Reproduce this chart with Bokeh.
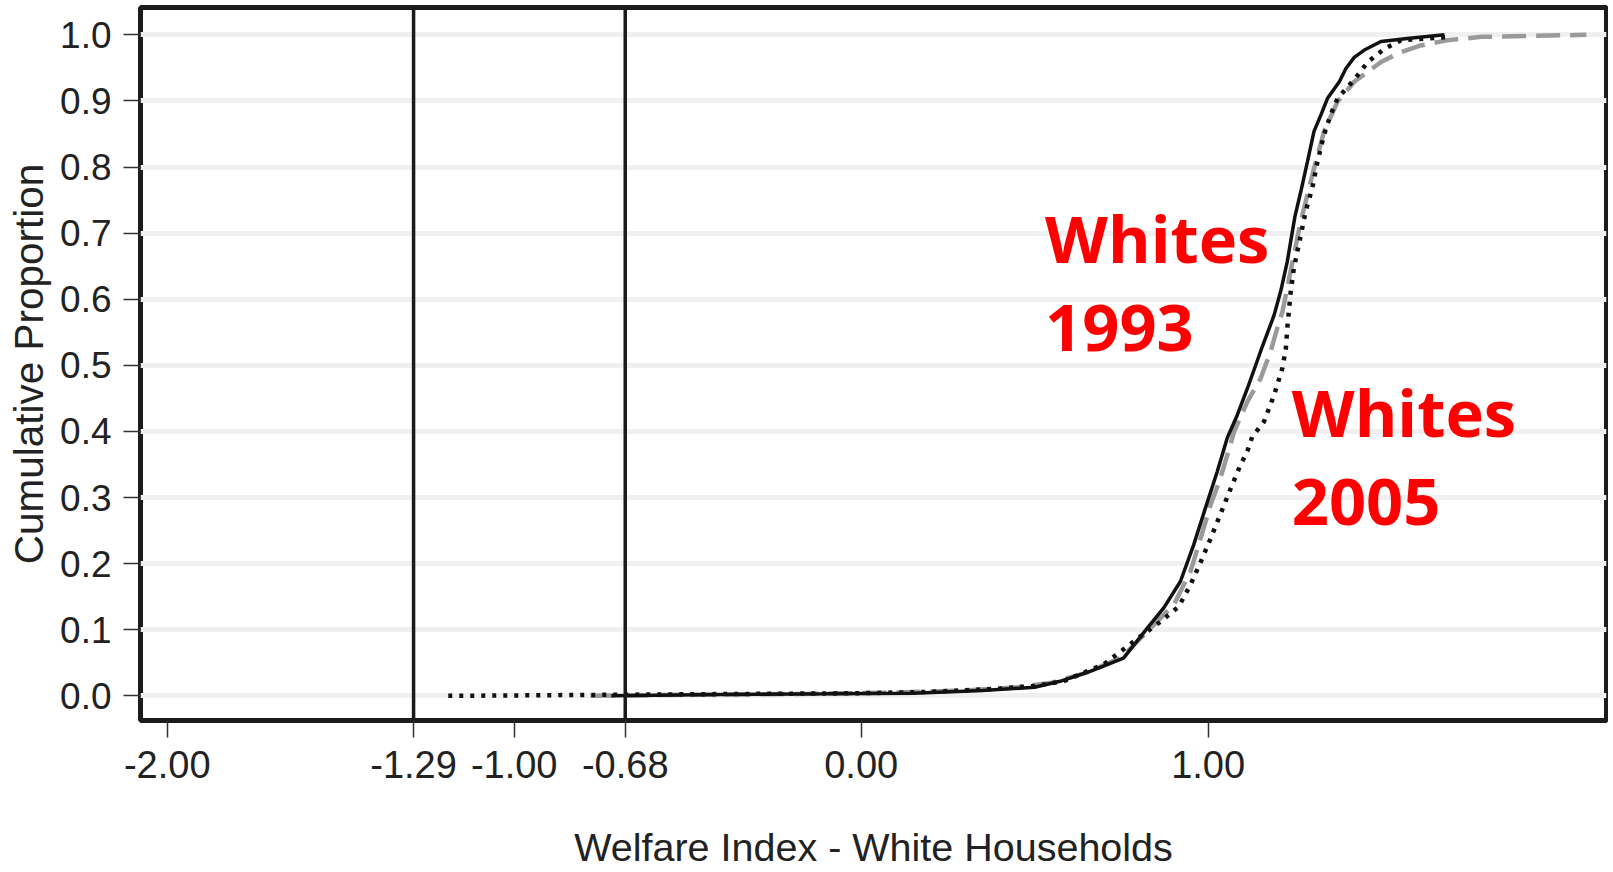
from bokeh.plotting import figure
from bokeh.models import Range1d, FixedTicker, Span, NumeralTickFormatter, ColumnDataSource
from bokeh.core.properties import value
from bokeh.embed import file_html
from bokeh.resources import INLINE

# ---- data ----
# solid black curve (Whites 1993)
x_solid = [-0.72, -0.40, -0.10, 0.15, 0.35, 0.50, 0.573, 0.66, 0.756, 0.824, 0.872, 0.920,
           0.958, 0.992, 1.026, 1.055, 1.084, 1.113, 1.151, 1.190, 1.209, 1.228, 1.250,
           1.267, 1.286, 1.305, 1.325, 1.344, 1.378, 1.397, 1.421, 1.450, 1.498, 1.58, 1.681]
y_solid = [0.000, 0.002, 0.003, 0.004, 0.008, 0.013, 0.022, 0.037, 0.057, 0.102, 0.133, 0.173,
           0.228, 0.284, 0.339, 0.390, 0.425, 0.465, 0.521, 0.576, 0.612, 0.657, 0.725,
           0.763, 0.808, 0.854, 0.879, 0.904, 0.929, 0.949, 0.966, 0.977, 0.990, 0.995, 1.000]

# grey dashed curve
x_dashed = [-0.78, -0.45, -0.15, 0.10, 0.30, 0.45, 0.55, 0.65, 0.75, 0.833, 0.901, 0.949,
            0.978, 1.007, 1.035, 1.064, 1.075, 1.113, 1.151, 1.180, 1.199, 1.214, 1.228,
            1.247, 1.267, 1.305, 1.334, 1.373, 1.421, 1.460, 1.498, 1.556, 1.613, 1.690,
            1.788, 2.09]
y_dashed = [0.000, 0.002, 0.003, 0.005, 0.008, 0.013, 0.020, 0.035, 0.058, 0.102, 0.138, 0.188,
            0.238, 0.289, 0.329, 0.380, 0.400, 0.445, 0.480, 0.521, 0.556, 0.581, 0.617,
            0.667, 0.718, 0.798, 0.854, 0.899, 0.929, 0.944, 0.959, 0.974, 0.984, 0.992,
            0.997, 1.000]

# black dotted curve (Whites 2005)
x_dotted = [-1.19, -0.90, -0.60, -0.30, 0.00, 0.20, 0.40, 0.50, 0.583, 0.70, 0.80, 0.862,
            0.915, 0.949, 0.983, 1.007, 1.040, 1.069, 1.093, 1.113, 1.127, 1.161, 1.190,
            1.214, 1.224, 1.228, 1.238, 1.247, 1.267, 1.281, 1.300, 1.315, 1.334, 1.353,
            1.373, 1.402, 1.431, 1.460, 1.508, 1.556, 1.695]
y_dotted = [0.000, 0.001, 0.002, 0.003, 0.004, 0.006, 0.011, 0.015, 0.022, 0.048, 0.088, 0.112,
            0.135, 0.168, 0.208, 0.238, 0.281, 0.319, 0.349, 0.370, 0.392, 0.415, 0.455,
            0.496, 0.526, 0.556, 0.612, 0.647, 0.697, 0.733, 0.768, 0.808, 0.849, 0.879,
            0.904, 0.921, 0.939, 0.959, 0.979, 0.992, 0.997]

cutoffs = [-1.29, -0.68]
x_ticks = [-2.00, -1.29, -1.00, -0.68, 0.00, 1.00]
y_ticks = [0.0, 0.1, 0.2, 0.3, 0.4, 0.5, 0.6, 0.7, 0.8, 0.9, 1.0]

label_text = ["Whites", "1993", "Whites", "2005"]
label_x = [0.530, 0.530, 1.241, 1.241]
label_y = [0.693, 0.557, 0.429, 0.294]

x_title = "Welfare Index - White Households"
y_title = "Cumulative Proportion"

# ---- figure ----
p = figure(width=1608, height=871, output_backend="svg", toolbar_location=None,
           x_range=Range1d(-2.077, 2.148), y_range=Range1d(-0.0373, 1.0414),
           min_border_left=140, min_border_right=2, min_border_top=7, min_border_bottom=151)
p.background_fill_color = "white"
p.border_fill_color = "white"
p.outline_line_color = "#1c1c1c"
p.outline_line_width = 5

p.xgrid.visible = False
p.ygrid.ticker = FixedTicker(ticks=y_ticks)
p.ygrid.grid_line_color = "#f0f0f0"
p.ygrid.grid_line_width = 5

for ax in (p.xaxis[0], p.yaxis[0]):
    ax.axis_line_color = None
    ax.major_tick_in = 0
    ax.major_tick_out = 17
    ax.major_tick_line_color = "#333333"
    ax.major_tick_line_width = 1.5
    ax.minor_tick_line_color = None
    ax.major_label_text_font = "Liberation Sans"
    ax.major_label_text_color = "#222222"
    ax.axis_label_text_font = "Liberation Sans"
    ax.axis_label_text_font_style = "normal"
    ax.axis_label_text_color = "#222222"

p.xaxis.ticker = FixedTicker(ticks=x_ticks)
p.xaxis.formatter = NumeralTickFormatter(format="0.00")
p.xaxis.major_label_text_font_size = "38px"
p.xaxis.major_label_standoff = 13
p.xaxis.axis_label = x_title
p.xaxis.axis_label_text_font_size = "39.5px"
p.xaxis.axis_label_standoff = 44

p.yaxis.ticker = FixedTicker(ticks=y_ticks)
p.yaxis.formatter = NumeralTickFormatter(format="0.0")
p.yaxis.major_label_text_font_size = "37px"
p.yaxis.major_label_standoff = 12
p.yaxis.axis_label = y_title
p.yaxis.axis_label_text_font_size = "40.5px"
p.yaxis.axis_label_standoff = 5

for c in cutoffs:
    p.add_layout(Span(location=c, dimension="height", line_color="#1a1a1a", line_width=3.5))

p.line(x_dashed, y_dashed, line_color="#9a9a9a", line_width=4.5, line_dash="24 10")
p.line(x_solid, y_solid, line_color="#111111", line_width=3.5)
p.line(x_dotted, y_dotted, line_color="#111111", line_width=4.5, line_dash="4 7")

src = ColumnDataSource(dict(x=label_x, y=label_y, t=label_text))
p.text(x="x", y="y", text="t", source=src, text_font=value("Open Sans"),
       text_font_style="bold", text_font_size="65px", text_color="#ff0000",
       text_align="left", text_baseline="alphabetic")

open("out.html", "w").write(file_html(p, INLINE))
